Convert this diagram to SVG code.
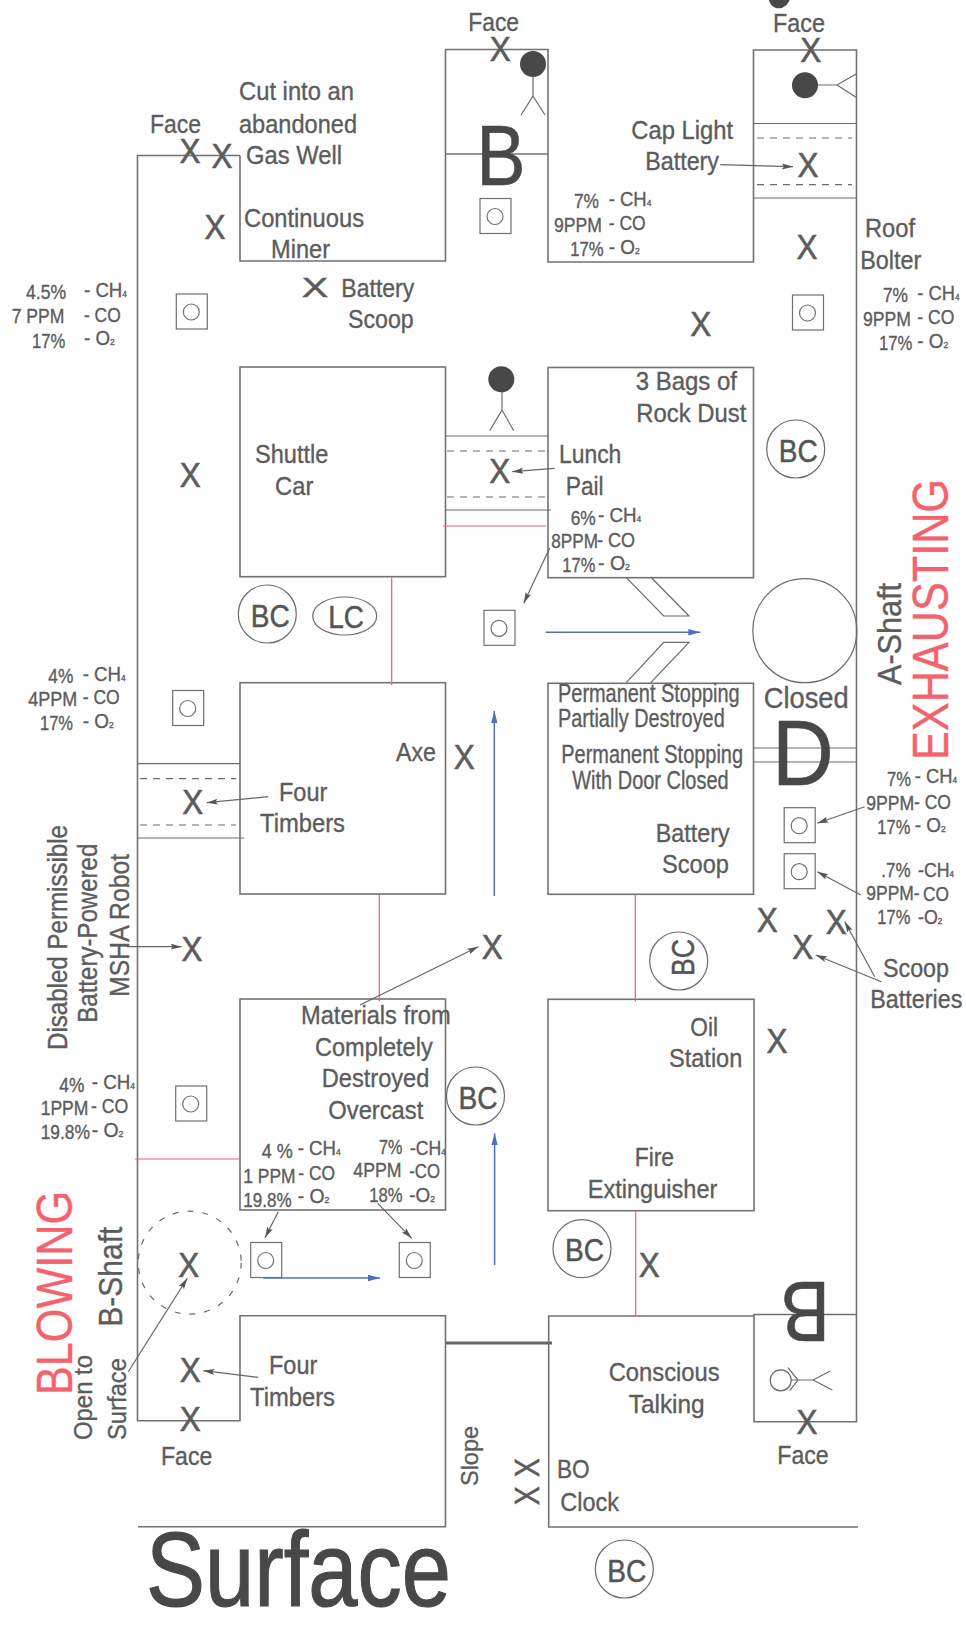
<svg xmlns="http://www.w3.org/2000/svg" width="966" height="1627" viewBox="0 0 966 1627">
<style>
text{font-family:"Liberation Sans",Arial,sans-serif;fill:#5c5c5c;stroke:#5c5c5c;stroke-width:.35}
.l{font-size:26px}.g{font-size:20px}.x{font-size:35px;text-anchor:middle;stroke-width:.6}.bc{font-size:32px;fill:#555;stroke:#555;stroke-width:.5}
.big{fill:#484848;stroke:#484848;stroke-width:.6}.hot{fill:#f2636f;stroke:#f2636f;font-size:50px}
.w{fill:none;stroke:#727272;stroke-width:1.6}
.thin{fill:none;stroke:#6a6a6a;stroke-width:1.2}
.d{fill:none;stroke:#6a6a6a;stroke-width:1.2;stroke-dasharray:7 6}
.r{fill:none;stroke:#ea5f7c;stroke-width:1.2}
.a{fill:none;stroke:#666;stroke-width:1.2;marker-end:url(#ag)}
.b{fill:none;stroke:#4f70b6;stroke-width:1.5;marker-end:url(#ab)}
.s{fill:#fff;stroke:#707070;stroke-width:1.2}
.h{fill:#484848}
</style>
<defs>
<marker id="ag" markerUnits="userSpaceOnUse" markerWidth="12" markerHeight="8" refX="11" refY="4" orient="auto"><path d="M0 1 11 4 0 7 2 4z" fill="#555"/></marker>
<marker id="ab" markerUnits="userSpaceOnUse" markerWidth="13" markerHeight="8" refX="12" refY="4" orient="auto"><path d="M0 .8 12 4 0 7.2z" fill="#4f70b6"/></marker>
<g id="sensor"><rect class="s" x="0" y="0" width="31" height="35"/><circle class="s" cx="15" cy="18" r="8"/></g>
</defs>
<rect width="966" height="1627" fill="#fefefe"/>

<g id="walls">
<path class="w" d="M240 155.500H137.500V1420.700H240V1315.700H445.500V1526.700H138"/>
<path class="w" d="M240 155.500V261H445.500V49.500H548V262H753.500V50H856.500V1421.700H754V1314.500H856.500"/>
<path class="w" d="M445.500 154H548"/>
<path class="w" d="M754 1316H548.700V1527H858"/>
<rect class="w" x="240" y="367" width="205.500" height="209.700"/>
<rect class="w" x="548" y="367.500" width="205.500" height="210.200"/>
<rect class="w" x="240" y="682.700" width="205.500" height="211.300"/>
<rect class="w" x="548" y="683.300" width="205.500" height="211"/>
<rect class="w" x="240" y="999" width="205.500" height="211"/>
<rect class="w" x="548" y="999.300" width="206" height="211.400"/>
<path class="thin" d="M753.500 123.500H857M753.500 198H857M445.500 436H548M445.500 510H551M137.500 763.700H240M137.500 838H244M753.500 748H857M753.500 762H857"/>
<path class="d" d="M757 138H852M757 184.600H852M447 451H545M447 497H545M140 778.700H236M140 825H236"/>
<path class="thin" d="M626.300 577.700 663.700 616H689L650.700 577M626.300 682.700 663.700 642.300H689L650.700 682.700"/>
<path fill="none" stroke="#666" stroke-width="3" d="M446 1343H552"/>
<circle class="thin" cx="804.800" cy="630.700" r="52"/>
<circle class="thin" cx="189.700" cy="1262.700" r="51.500" stroke-dasharray="6 9"/>
</g>

<g id="connectors">
<path class="r" d="M443 526H546M391.700 577V685M379.300 894V1001M135 1159H239M635.300 894V1001.700M635.700 1210.700V1317"/>
<path class="b" d="M545.700 632.300H700.300"/>
<path class="b" d="M494.300 896V711"/>
<path class="b" d="M494.600 1265V1133.300"/>
<path class="b" d="M263.300 1278H380"/>
<path class="a" d="M720.300 164.700 793 166.700"/>
<path class="a" d="M554.700 468.300 512.300 471.700"/>
<path class="a" d="M268.300 796.700 206.700 802.700"/>
<path class="a" d="M549.700 548 523.700 603.300"/>
<path class="a" d="M360 1005 478.300 946.700"/>
<path class="a" d="M126.700 946.700H181.700"/>
<path class="a" d="M864.700 806.700 817.300 823.300"/>
<path class="a" d="M860.700 895 817.300 871.700"/>
<path class="a" d="M881.300 981.700 815.700 955"/>
<path class="a" d="M874.700 976.700 844.700 921.500"/>
<path class="a" d="M128.300 1371.700 187.300 1278.300"/>
<path class="a" d="M258.300 1377.300 203.300 1370.700"/>
<path class="a" d="M278.300 1211.700 265 1237.700"/>
<path class="a" d="M377.700 1203.300 411.700 1238.300"/>
</g>

<g id="sensors">
<use href="#sensor" x="176.300" y="294"/>
<use href="#sensor" x="480" y="198.500"/>
<use href="#sensor" x="792.500" y="295"/>
<use href="#sensor" x="172.700" y="690.500"/>
<use href="#sensor" x="484" y="610.300"/>
<use href="#sensor" x="784.200" y="807.700"/>
<use href="#sensor" x="784.200" y="853.700"/>
<use href="#sensor" x="175.700" y="1086"/>
<use href="#sensor" x="250.700" y="1242.500"/>
<use href="#sensor" x="399.300" y="1242.500"/>
</g>

<g id="persons">
<g id="person-top-b"><circle class="h" cx="533" cy="64" r="13"/><path class="thin" d="M533 77V96L521 115M533 96 545 115"/></g>
<g id="person-top-right"><circle class="h" cx="805" cy="85.300" r="13"/><path class="thin" d="M818 85H837L856 74M837 85 856 97.300"/></g>
<g id="person-cut"><ellipse class="h" cx="779.500" cy="-3" rx="10.500" ry="11.500" transform="rotate(25 779.500 -3)"/></g>
<g id="person-mid"><circle class="h" cx="501.300" cy="379.300" r="13"/><path class="thin" d="M502 392V410L489.700 430.700M502 410 513.700 430.700"/></g>
<g id="person-bottom"><circle class="thin" cx="780.700" cy="1380.300" r="10.500"/><path class="thin" d="M791 1380H813L830.300 1371M813 1380 832.300 1390M788 1367.700 798 1380 789.700 1390.700"/></g>
</g>

<g id="bc-markers">
<g><circle class="thin" cx="267.300" cy="614" r="29"/><text class="bc" x="250.700" y="627" textLength="39" lengthAdjust="spacingAndGlyphs">BC</text></g>
<g><ellipse class="thin" cx="344.700" cy="616" rx="32" ry="19"/><text class="bc" x="328.300" y="628" textLength="35.700" lengthAdjust="spacingAndGlyphs">LC</text></g>
<g><circle class="thin" cx="795.700" cy="449" r="29"/><text class="bc" x="778.700" y="461.500" textLength="39" lengthAdjust="spacingAndGlyphs">BC</text></g>
<g><circle class="thin" cx="678.700" cy="961" r="29"/><text class="bc" transform="translate(694 976) rotate(-90)" textLength="37" lengthAdjust="spacingAndGlyphs">BC</text></g>
<g><circle class="thin" cx="475.500" cy="1096" r="29"/><text class="bc" x="458.500" y="1108.500" textLength="39" lengthAdjust="spacingAndGlyphs">BC</text></g>
<g><circle class="thin" cx="582" cy="1248.700" r="29"/><text class="bc" x="565" y="1261" textLength="39" lengthAdjust="spacingAndGlyphs">BC</text></g>
<g><circle class="thin" cx="624.300" cy="1569" r="29"/><text class="bc" x="607.300" y="1582" textLength="39" lengthAdjust="spacingAndGlyphs">BC</text></g>
</g>

<g id="x-marks">
<text class="x" x="190" y="163.300" textLength="21" lengthAdjust="spacingAndGlyphs">X</text>
<text class="x" x="222" y="168" textLength="21" lengthAdjust="spacingAndGlyphs">X</text>
<text class="x" x="215" y="239.300" textLength="21" lengthAdjust="spacingAndGlyphs">X</text>
<text class="x" transform="translate(315 297) scale(1.15 .78)" textLength="23" lengthAdjust="spacingAndGlyphs">X</text>
<text class="x" x="500.300" y="61" textLength="21" lengthAdjust="spacingAndGlyphs">X</text>
<text class="x" x="810.700" y="62" textLength="21" lengthAdjust="spacingAndGlyphs">X</text>
<text class="x" x="808" y="176.700" textLength="21" lengthAdjust="spacingAndGlyphs">X</text>
<text class="x" x="807" y="259.300" textLength="21" lengthAdjust="spacingAndGlyphs">X</text>
<text class="x" x="700.700" y="336" textLength="21" lengthAdjust="spacingAndGlyphs">X</text>
<text class="x" x="190.300" y="486.700" textLength="21" lengthAdjust="spacingAndGlyphs">X</text>
<text class="x" x="464.300" y="769.300" textLength="21" lengthAdjust="spacingAndGlyphs">X</text>
<text class="x" x="499.700" y="483.300" textLength="21" lengthAdjust="spacingAndGlyphs">X</text>
<text class="x" x="192.700" y="814" textLength="21" lengthAdjust="spacingAndGlyphs">X</text>
<text class="x" x="192" y="960.700" textLength="21" lengthAdjust="spacingAndGlyphs">X</text>
<text class="x" x="492.300" y="958.700" textLength="21" lengthAdjust="spacingAndGlyphs">X</text>
<text class="x" x="767.300" y="932.300" textLength="21" lengthAdjust="spacingAndGlyphs">X</text>
<text class="x" x="836.300" y="934.300" textLength="21" lengthAdjust="spacingAndGlyphs">X</text>
<text class="x" x="802.700" y="959.300" textLength="21" lengthAdjust="spacingAndGlyphs">X</text>
<text class="x" x="777" y="1052.700" textLength="21" lengthAdjust="spacingAndGlyphs">X</text>
<text class="x" x="188.700" y="1276.700" textLength="21" lengthAdjust="spacingAndGlyphs">X</text>
<text class="x" x="190.300" y="1381.700" textLength="21" lengthAdjust="spacingAndGlyphs">X</text>
<text class="x" x="190.300" y="1430.700" textLength="21" lengthAdjust="spacingAndGlyphs">X</text>
<text class="x" x="649.300" y="1277.300" textLength="21" lengthAdjust="spacingAndGlyphs">X</text>
<text class="x" x="807" y="1434" textLength="21" lengthAdjust="spacingAndGlyphs">X</text>
<text class="x" transform="translate(538.500 1467.700) rotate(-90)" textLength="19" lengthAdjust="spacingAndGlyphs">X</text>
<text class="x" transform="translate(538.500 1495.700) rotate(-90)" textLength="19" lengthAdjust="spacingAndGlyphs">X</text>
</g>

<g id="labels">
<text class="l" x="150" y="132.700" textLength="51" lengthAdjust="spacingAndGlyphs">Face</text>
<text class="l" x="468.300" y="31" textLength="50.700" lengthAdjust="spacingAndGlyphs">Face</text>
<text class="l" x="773" y="31.700" textLength="52" lengthAdjust="spacingAndGlyphs">Face</text>
<text class="l" x="161" y="1465" textLength="51.300" lengthAdjust="spacingAndGlyphs">Face</text>
<text class="l" x="777.300" y="1464.300" textLength="51.300" lengthAdjust="spacingAndGlyphs">Face</text>
<text class="l" x="239" y="100.300" textLength="115" lengthAdjust="spacingAndGlyphs">Cut into an</text>
<text class="l" x="239" y="132.700" textLength="118" lengthAdjust="spacingAndGlyphs">abandoned</text>
<text class="l" x="246" y="163.700" textLength="96" lengthAdjust="spacingAndGlyphs">Gas Well</text>
<text class="l" x="244" y="226.700" textLength="120" lengthAdjust="spacingAndGlyphs">Continuous</text>
<text class="l" x="271" y="258.300" textLength="59" lengthAdjust="spacingAndGlyphs">Miner</text>
<text class="l" x="341.300" y="297.300" textLength="73" lengthAdjust="spacingAndGlyphs">Battery</text>
<text class="l" x="348" y="328.300" textLength="65.700" lengthAdjust="spacingAndGlyphs">Scoop</text>
<text class="l" x="631.300" y="138.700" textLength="101.700" lengthAdjust="spacingAndGlyphs">Cap Light</text>
<text class="l" x="645.300" y="170" textLength="73.700" lengthAdjust="spacingAndGlyphs">Battery</text>
<text class="l" x="865" y="237.300" textLength="50" lengthAdjust="spacingAndGlyphs">Roof</text>
<text class="l" x="860.300" y="269.300" textLength="61" lengthAdjust="spacingAndGlyphs">Bolter</text>
<text class="l" x="635.700" y="390" textLength="101.300" lengthAdjust="spacingAndGlyphs">3 Bags of</text>
<text class="l" x="636.300" y="421.700" textLength="110" lengthAdjust="spacingAndGlyphs">Rock Dust</text>
<text class="l" x="255" y="463.300" textLength="73.300" lengthAdjust="spacingAndGlyphs">Shuttle</text>
<text class="l" x="275" y="494.700" textLength="38.300" lengthAdjust="spacingAndGlyphs">Car</text>
<text class="l" x="396" y="760.700" textLength="40" lengthAdjust="spacingAndGlyphs">Axe</text>
<text class="l" x="279" y="801" textLength="48.300" lengthAdjust="spacingAndGlyphs">Four</text>
<text class="l" x="260" y="831.700" textLength="85" lengthAdjust="spacingAndGlyphs">Timbers</text>
<text class="l" x="559" y="463.300" textLength="62.300" lengthAdjust="spacingAndGlyphs">Lunch</text>
<text class="l" x="565.700" y="495" textLength="38" lengthAdjust="spacingAndGlyphs">Pail</text>
<text class="l" x="558" y="701.700" textLength="181.700" lengthAdjust="spacingAndGlyphs">Permanent Stopping</text>
<text class="l" x="558" y="727.300" textLength="166.700" lengthAdjust="spacingAndGlyphs">Partially Destroyed</text>
<text class="l" x="561.300" y="763.300" textLength="181.700" lengthAdjust="spacingAndGlyphs">Permanent Stopping</text>
<text class="l" x="572.300" y="789" textLength="156.300" lengthAdjust="spacingAndGlyphs">With Door Closed</text>
<text class="l" x="763.700" y="708.300" textLength="85" lengthAdjust="spacingAndGlyphs" style="font-size:29px">Closed</text>
<text class="l" x="655.700" y="841.700" textLength="74" lengthAdjust="spacingAndGlyphs">Battery</text>
<text class="l" x="662" y="873.300" textLength="67" lengthAdjust="spacingAndGlyphs">Scoop</text>
<text class="l" x="883" y="976.700" textLength="66" lengthAdjust="spacingAndGlyphs">Scoop</text>
<text class="l" transform="translate(870.300 1008.300) scale(.897 1)">Batteries</text>
<text class="l" x="690.300" y="1035.700" textLength="27.700" lengthAdjust="spacingAndGlyphs">Oil</text>
<text class="l" x="669" y="1067.300" textLength="73.300" lengthAdjust="spacingAndGlyphs">Station</text>
<text class="l" x="634.700" y="1166" textLength="39.300" lengthAdjust="spacingAndGlyphs">Fire</text>
<text class="l" x="587.700" y="1197.700" textLength="129.700" lengthAdjust="spacingAndGlyphs">Extinguisher</text>
<text class="l" x="301" y="1024" textLength="149.700" lengthAdjust="spacingAndGlyphs">Materials from</text>
<text class="l" x="315" y="1056" textLength="117.700" lengthAdjust="spacingAndGlyphs">Completely</text>
<text class="l" x="321.700" y="1087.300" textLength="107.700" lengthAdjust="spacingAndGlyphs">Destroyed</text>
<text class="l" x="328.300" y="1119.300" textLength="95" lengthAdjust="spacingAndGlyphs">Overcast</text>
<text class="l" x="269" y="1374" textLength="48.300" lengthAdjust="spacingAndGlyphs">Four</text>
<text class="l" x="250" y="1405.700" textLength="85" lengthAdjust="spacingAndGlyphs">Timbers</text>
<text class="l" x="608.700" y="1381" textLength="111" lengthAdjust="spacingAndGlyphs">Conscious</text>
<text class="l" x="628.700" y="1413.300" textLength="76" lengthAdjust="spacingAndGlyphs">Talking</text>
<text class="l" x="557" y="1478.300" textLength="32.700" lengthAdjust="spacingAndGlyphs">BO</text>
<text class="l" x="560.300" y="1511" textLength="58.700" lengthAdjust="spacingAndGlyphs">Clock</text>
<text class="l" transform="translate(66.500 1050) rotate(-90)" textLength="225" lengthAdjust="spacingAndGlyphs" style="font-size:27px">Disabled Permissible</text>
<text class="l" transform="translate(97 1022.700) rotate(-90)" textLength="179" lengthAdjust="spacingAndGlyphs" style="font-size:27px">Battery-Powered</text>
<text class="l" transform="translate(129 996.700) rotate(-90)" textLength="142.700" lengthAdjust="spacingAndGlyphs" style="font-size:27px">MSHA Robot</text>
<text class="l" transform="translate(92 1440) rotate(-90)" textLength="85" lengthAdjust="spacingAndGlyphs">Open to</text>
<text class="l" transform="translate(125.500 1440) rotate(-90)" textLength="82" lengthAdjust="spacingAndGlyphs">Surface</text>
<text class="l" transform="translate(478 1486) rotate(-90)" textLength="60" lengthAdjust="spacingAndGlyphs" style="font-size:24px">Slope</text>
<text class="l" transform="translate(901 685) rotate(-90)" textLength="102" lengthAdjust="spacingAndGlyphs" style="font-size:33px">A-Shaft</text>
<text class="l" transform="translate(121.500 1326.700) rotate(-90)" textLength="100" lengthAdjust="spacingAndGlyphs" style="font-size:33px">B-Shaft</text>
<text class="hot" transform="translate(948 760) rotate(-90)" textLength="281" lengthAdjust="spacingAndGlyphs">EXHAUSTING</text>
<text class="hot" transform="translate(71.500 1395) rotate(-90)" textLength="204" lengthAdjust="spacingAndGlyphs">BLOWING</text>
<text class="big" x="476.300" y="185" textLength="49.300" lengthAdjust="spacingAndGlyphs" style="font-size:86px">B</text>
<text class="big" x="772" y="785" textLength="61.800" lengthAdjust="spacingAndGlyphs" style="font-size:93px">D</text>
<text class="big" transform="translate(830 1281.700) rotate(180)" textLength="49.300" lengthAdjust="spacingAndGlyphs" style="font-size:86px">B</text>
<text class="big" x="146" y="1606" textLength="305" lengthAdjust="spacingAndGlyphs" style="font-size:106px;stroke-width:1.2">Surface</text>
</g>

<g id="gas-readings">
<g id="g1">
<text class="g" x="26" y="299.300" textLength="40" lengthAdjust="spacingAndGlyphs">4.5%</text><text class="g" x="84" y="297.300" textLength="43" lengthAdjust="spacingAndGlyphs">- CH<tspan font-size="9">4</tspan></text>
<text class="g" x="11.700" y="323.300" textLength="52.700" lengthAdjust="spacingAndGlyphs">7 PPM</text><text class="g" x="84" y="321.700" textLength="36.700" lengthAdjust="spacingAndGlyphs">- CO</text>
<text class="g" x="32" y="347.700" textLength="33.300" lengthAdjust="spacingAndGlyphs">17%</text><text class="g" x="84" y="345" textLength="30.700" lengthAdjust="spacingAndGlyphs">- O<tspan font-size="9">2</tspan></text>
</g>
<g id="g2">
<text class="g" x="574" y="208.300" textLength="25" lengthAdjust="spacingAndGlyphs">7%</text><text class="g" x="608.700" y="206" textLength="42.700" lengthAdjust="spacingAndGlyphs">- CH<tspan font-size="9">4</tspan></text>
<text class="g" x="554" y="231.700" textLength="48" lengthAdjust="spacingAndGlyphs">9PPM</text><text class="g" x="608.700" y="230" textLength="37" lengthAdjust="spacingAndGlyphs">- CO</text>
<text class="g" x="570.300" y="256" textLength="33.300" lengthAdjust="spacingAndGlyphs">17%</text><text class="g" x="608.700" y="254" textLength="31" lengthAdjust="spacingAndGlyphs">- O<tspan font-size="9">2</tspan></text>
</g>
<g id="g3">
<text class="g" x="883" y="301.700" textLength="25" lengthAdjust="spacingAndGlyphs">7%</text><text class="g" x="917.300" y="300" textLength="42.300" lengthAdjust="spacingAndGlyphs">- CH<tspan font-size="9">4</tspan></text>
<text class="g" x="863" y="326" textLength="48" lengthAdjust="spacingAndGlyphs">9PPM</text><text class="g" x="917.300" y="324.300" textLength="37" lengthAdjust="spacingAndGlyphs">- CO</text>
<text class="g" x="879" y="350" textLength="33.300" lengthAdjust="spacingAndGlyphs">17%</text><text class="g" x="917.300" y="348.300" textLength="31" lengthAdjust="spacingAndGlyphs">- O<tspan font-size="9">2</tspan></text>
</g>
<g id="g4">
<text class="g" x="48.300" y="682.700" textLength="25" lengthAdjust="spacingAndGlyphs">4%</text><text class="g" x="82.700" y="681" textLength="43" lengthAdjust="spacingAndGlyphs">- CH<tspan font-size="9">4</tspan></text>
<text class="g" x="28.300" y="705.700" textLength="49" lengthAdjust="spacingAndGlyphs">4PPM</text><text class="g" x="82.700" y="704" textLength="37" lengthAdjust="spacingAndGlyphs">- CO</text>
<text class="g" x="40" y="730" textLength="33" lengthAdjust="spacingAndGlyphs">17%</text><text class="g" x="82.700" y="728.300" textLength="31" lengthAdjust="spacingAndGlyphs">- O<tspan font-size="9">2</tspan></text>
</g>
<g id="g5">
<text class="g" x="570.700" y="525" textLength="25" lengthAdjust="spacingAndGlyphs">6%</text><text class="g" x="598" y="522.300" textLength="43.300" lengthAdjust="spacingAndGlyphs">- CH<tspan font-size="9">4</tspan></text>
<text class="g" x="551.300" y="548.300" textLength="46.700" lengthAdjust="spacingAndGlyphs">8PPM</text><text class="g" x="597" y="546.700" textLength="38" lengthAdjust="spacingAndGlyphs">- CO</text>
<text class="g" x="562.300" y="572.300" textLength="33" lengthAdjust="spacingAndGlyphs">17%</text><text class="g" x="598" y="570" textLength="32" lengthAdjust="spacingAndGlyphs">- O<tspan font-size="9">2</tspan></text>
</g>
<g id="g6">
<text class="g" x="887" y="786" textLength="24" lengthAdjust="spacingAndGlyphs">7%</text><text class="g" x="914.700" y="783.300" textLength="42.300" lengthAdjust="spacingAndGlyphs">- CH<tspan font-size="9">4</tspan></text>
<text class="g" x="866.300" y="810" textLength="48" lengthAdjust="spacingAndGlyphs">9PPM</text><text class="g" x="914" y="808.600" textLength="37" lengthAdjust="spacingAndGlyphs">- CO</text>
<text class="g" x="877.300" y="834.300" textLength="33" lengthAdjust="spacingAndGlyphs">17%</text><text class="g" x="914.700" y="831.700" textLength="31" lengthAdjust="spacingAndGlyphs">- O<tspan font-size="9">2</tspan></text>
</g>
<g id="g7">
<text class="g" x="881.300" y="876.700" textLength="29.300" lengthAdjust="spacingAndGlyphs">.7%</text><text class="g" x="918" y="877.300" textLength="36" lengthAdjust="spacingAndGlyphs">-CH<tspan font-size="9">4</tspan></text>
<text class="g" x="866.300" y="900" textLength="53.300" lengthAdjust="spacingAndGlyphs">9PPM-</text><text class="g" x="923" y="901" textLength="26" lengthAdjust="spacingAndGlyphs">CO</text>
<text class="g" x="877.300" y="924" textLength="33" lengthAdjust="spacingAndGlyphs">17%</text><text class="g" x="918" y="924" textLength="24.300" lengthAdjust="spacingAndGlyphs">-O<tspan font-size="9">2</tspan></text>
</g>
<g id="g8">
<text class="g" x="59.300" y="1091.700" textLength="25" lengthAdjust="spacingAndGlyphs">4%</text><text class="g" x="91.700" y="1089.300" textLength="43.300" lengthAdjust="spacingAndGlyphs">- CH<tspan font-size="9">4</tspan></text>
<text class="g" x="40.700" y="1115" textLength="47.700" lengthAdjust="spacingAndGlyphs">1PPM</text><text class="g" x="91" y="1112.700" textLength="37.300" lengthAdjust="spacingAndGlyphs">- CO</text>
<text class="g" x="40.700" y="1139" textLength="49.300" lengthAdjust="spacingAndGlyphs">19.8%</text><text class="g" x="91.700" y="1136.700" textLength="31.700" lengthAdjust="spacingAndGlyphs">- O<tspan font-size="9">2</tspan></text>
</g>
<g id="g9">
<text class="g" x="261.700" y="1158.300" textLength="31" lengthAdjust="spacingAndGlyphs">4 %</text><text class="g" x="297.700" y="1155" textLength="43" lengthAdjust="spacingAndGlyphs">- CH<tspan font-size="9">4</tspan></text>
<text class="g" x="243.300" y="1182.700" textLength="52.300" lengthAdjust="spacingAndGlyphs">1 PPM</text><text class="g" x="298.300" y="1180" textLength="36.700" lengthAdjust="spacingAndGlyphs">- CO</text>
<text class="g" x="243.300" y="1207.300" textLength="48.300" lengthAdjust="spacingAndGlyphs">19.8%</text><text class="g" x="297.700" y="1203.300" textLength="31.700" lengthAdjust="spacingAndGlyphs">- O<tspan font-size="9">2</tspan></text>
</g>
<g id="g10">
<text class="g" x="379" y="1154" textLength="23.300" lengthAdjust="spacingAndGlyphs">7%</text><text class="g" x="410" y="1155" textLength="35.700" lengthAdjust="spacingAndGlyphs">-CH<tspan font-size="9">4</tspan></text>
<text class="g" x="353.300" y="1177.300" textLength="48.300" lengthAdjust="spacingAndGlyphs">4PPM</text><text class="g" x="409.300" y="1178.300" textLength="30.700" lengthAdjust="spacingAndGlyphs">-CO</text>
<text class="g" x="369.300" y="1201.700" textLength="33.300" lengthAdjust="spacingAndGlyphs">18%</text><text class="g" x="409.300" y="1202.300" textLength="25.700" lengthAdjust="spacingAndGlyphs">-O<tspan font-size="9">2</tspan></text>
</g>
</g>
</svg>
